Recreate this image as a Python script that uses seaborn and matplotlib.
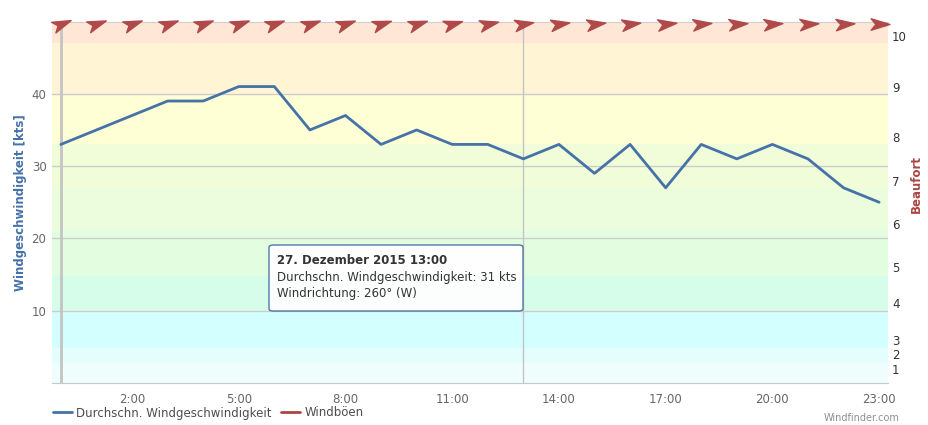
import matplotlib
matplotlib.use("Agg")
import matplotlib.pyplot as plt
import seaborn as sns
import pandas as pd
from matplotlib.path import Path
from matplotlib.markers import MarkerStyle
from matplotlib.transforms import Affine2D
from matplotlib.lines import Line2D
from matplotlib.patches import FancyBboxPatch

# hourly values, 27 Dec 2015
hours = list(range(24))
speed_kts = [33, 35, 37, 39, 39, 41, 41, 35, 37, 33, 35, 33,
             33, 31, 33, 29, 33, 27, 33, 31, 33, 31, 27, 25]
wind_dir = [248, 250, 250, 250, 250, 250, 251, 251, 251, 252, 252, 254,
            257, 260, 261, 262, 262, 263, 264, 265, 265, 266, 266, 270]

xtick_hours = [2, 5, 8, 11, 14, 17, 20, 23]
xtick_labels = ["2:00", "5:00", "8:00", "11:00", "14:00", "17:00", "20:00", "23:00"]
ytick_kts = [10, 20, 30, 40]

# beaufort colour bands (kts)
bft_edges = [0, 2.8, 4.8, 9.8, 14.8, 21, 27, 33, 40, 47, 55]
bft_colors = ["#f0fdfd", "#e4fdfd", "#d4ffff", "#d6fde9", "#e2fde0",
              "#ebfddd", "#f1fdd9", "#ffffd5", "#fff4d4", "#ffe6d5"]
bft_tick_pos = [2, 4, 6, 11, 16, 22, 28, 34, 41, 48]
bft_labels = ["1", "2", "3", "4", "5", "6", "7", "8", "9", "10"]

blue = "#4572a7"
red = "#aa4643"

sns.set_style("white")
plt.rcParams["font.family"] = ["DejaVu Sans"]

df = pd.DataFrame({"hour": hours, "speed": speed_kts})

fig = plt.figure(figsize=(9.29, 4.25), dpi=100)
ax = fig.add_axes([52 / 929, 42 / 425, 836 / 929, 361.5 / 425])

for lo, hi, c in zip(bft_edges[:-1], bft_edges[1:], bft_colors):
    ax.axhspan(lo, hi, color=c, lw=0, zorder=0)

for y in ytick_kts:
    ax.axhline(y, color="#cccccc", lw=1, zorder=1)

ax.axvline(0, color="#c4c4c4", lw=2, zorder=2)
ax.axvline(13, color="#c4c4c4", lw=1, zorder=2)

sns.lineplot(data=df, x="hour", y="speed", ax=ax, color=blue, lw=2, zorder=3)

# wind direction arrows along the top (pointing where the wind blows to)
arrow = Path([(1.0, 0.0), (-0.8, 0.55), (-0.35, 0.0), (-0.8, -0.55), (1.0, 0.0)],
             [Path.MOVETO, Path.LINETO, Path.LINETO, Path.LINETO, Path.CLOSEPOLY])
for h, d in zip(hours, wind_dir):
    m = MarkerStyle(arrow, transform=Affine2D().rotate_deg(270 - d))
    ax.plot(h, 49.6, marker=m, ms=15, color="#b04a4a", ls="none",
            clip_on=False, zorder=6)

ax.set_xlim(-0.25, 23.25)
ax.set_ylim(0, 50)
ax.set_xticks(xtick_hours)
ax.set_xticklabels(xtick_labels)
ax.set_yticks(ytick_kts)
ax.tick_params(axis="x", colors="#666666", labelsize=8.5, length=4, width=1,
               direction="out", pad=3)
ax.tick_params(axis="x", color="#c8c8c8")
ax.tick_params(axis="y", colors="#666666", labelsize=8.5, length=0, pad=4)
ax.set_xlabel("")
ax.set_ylabel("Windgeschwindigkeit [kts]", color=blue, fontsize=8.5,
              fontweight="bold")
ax.yaxis.set_label_coords(-0.03, 0.5)
for s in ["left", "right"]:
    ax.spines[s].set_visible(False)
ax.spines["top"].set_color("#d0d0d0")
ax.spines["bottom"].set_color("#c8c8c8")

ax2 = ax.twinx()
ax2.set_ylim(0, 50)
ax2.set_yticks(bft_tick_pos)
ax2.set_yticklabels(bft_labels)
ax2.tick_params(axis="y", colors="#333333", labelsize=8.5, length=0, pad=3)
ax2.set_ylabel("Beaufort", color=red, fontsize=8.5, fontweight="bold")
ax2.yaxis.set_label_coords(1.026, 0.55)
for s in ax2.spines.values():
    s.set_visible(False)

# tooltip
box = FancyBboxPatch((269 / 929, 1 - 311 / 425), 254 / 929, 66 / 425,
                     boxstyle="round,pad=0,rounding_size=0.005",
                     transform=fig.transFigure, facecolor="white",
                     edgecolor=blue, lw=1, alpha=0.95, zorder=10)
fig.patches.append(box)
fig.text(277 / 929, 1 - 261 / 425, "27. Dezember 2015 13:00", fontsize=8.5,
         fontweight="bold", color="#333333", va="center", zorder=11)
fig.text(277 / 929, 1 - 278 / 425, "Durchschn. Windgeschwindigkeit: 31 kts",
         fontsize=8.5, color="#333333", va="center", zorder=11)
fig.text(277 / 929, 1 - 294 / 425, "Windrichtung: 260° (W)", fontsize=8.5,
         color="#333333", va="center", zorder=11)

handles = [Line2D([], [], color=blue, lw=2),
           Line2D([], [], color=red, lw=2)]
fig.legend(handles, ["Durchschn. Windgeschwindigkeit", "Windböen"],
           loc="center left", bbox_to_anchor=(42 / 929, 1 - 413 / 425),
           ncol=2, frameon=False, fontsize=8.5, handlelength=1.6,
           handletextpad=0.4, columnspacing=0.8, labelcolor="#4d4d4d")

fig.text(900 / 929, 1 - 418 / 425, "Windfinder.com", fontsize=7,
         color="#909090", ha="right", va="center")

fig.savefig("out.png", dpi=100)
